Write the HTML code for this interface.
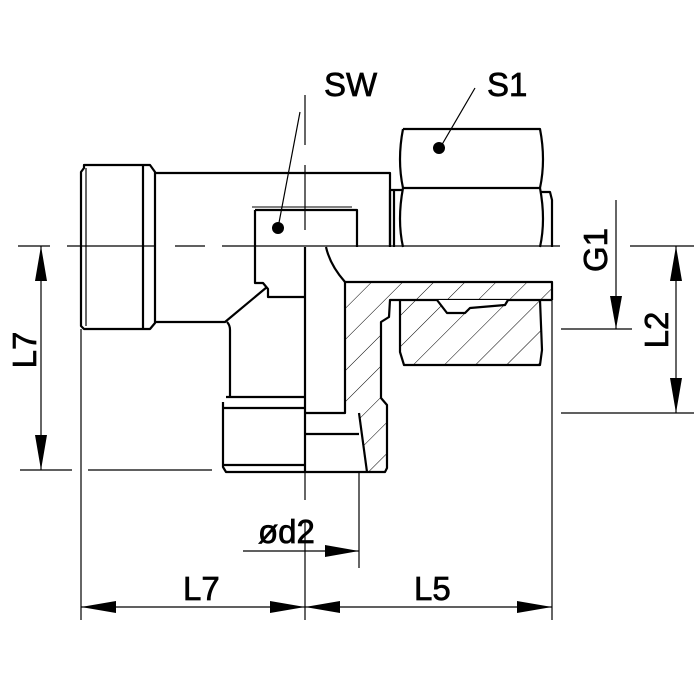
<!DOCTYPE html>
<html><head><meta charset="utf-8"><style>html,body{margin:0;padding:0;background:#fff}svg{display:block}</style></head>
<body>
<svg width="700" height="700" viewBox="0 0 700 700" xmlns="http://www.w3.org/2000/svg">
<defs>
<pattern id="h" patternUnits="userSpaceOnUse" width="22" height="22" patternTransform="rotate(45)">
<line x1="0" y1="0" x2="0" y2="22" stroke="#000" stroke-width="1"/>
</pattern>
</defs>
<g fill="none" stroke="#000" stroke-width="2.2" stroke-linejoin="round">
<!-- left nut -->
<path d="M84,168 L81,172 L81,326 L84,329 L150,329 L155,323 L155,172 L150,165 L84,165 Z"/>
<line x1="86" y1="168" x2="86" y2="326" stroke-width="1.2"/>
<line x1="143" y1="165" x2="143" y2="329"/>
<!-- body -->
<path d="M155,173 L390,173 L390,247"/>
<path d="M155,322 L225,322 L267,287"/>
<path d="M227,322 Q230,325 230,330 L230,397"/>
<!-- SW box -->
<path d="M255,210 L357,210 L357,247"/>
<path d="M255,210 L255,283 L263,283 L268,289 L268,297 L305,297" />
<path d="M252,207 L352,207" stroke-width="1"/>
<!-- lower nut -->
<path d="M226,397 L305,397 M223,402 L223,467 L226,472 L305,472 M223,408 L305,408 M223,465 L305,465"/>
<!-- S1 nut -->
<path d="M403,129 L540,129 Q546,160 540,188 Q546,220 540,247 M403,129 Q397,160 403,188 Q397,220 403,247 M403,188 L540,188"/>
<path d="M390,190 L390,247 M394,190 L394,247 M390,190 L403,190"/>
<path d="M540,192 L550,192 L552,200 L552,247"/>
<!-- hatched section -->
<path d="M345,282 L552,282 L552,300 L400,300 L390,300 L389,317 L381,322 L381,398 L387,405 L387,468 L385,472 L367,472 L359,413 L345,413 Z" fill="url(#h)" stroke="none"/>
<path d="M345,282 L552,282 L552,300 M345,282 L345,413 L305,413" />
<path d="M326,247 Q330,265 345,282" />
<path d="M305,247 L305,472 L385,472 L387,468 L387,405 L381,398 L381,322 L389,317 L390,300 L552,300"/>
<line x1="305" y1="434" x2="359" y2="434"/>
<path d="M359,413 L367,472"/>
<!-- lower right nut part -->
<path d="M400,300 L400,352 L404,365 L540,365 L542,350 L540,300" fill="url(#h)"/>
<path d="M437,300 L447,313 L465,313 L470,308 L505,305 L508,300" fill="#fff"/>
</g>
<!-- centre / dim lines -->
<g stroke="#000" stroke-width="1.2" fill="none">
<path d="M18,246 L50,246 M67,246 L155,246 M175,246 L205,246 M222,246 L560,246 M630,246 L694,246"/>
<path d="M305,95 L305,145 M305,165 L305,230 M305,472 L305,500 M305,520 L305,620"/>
<path d="M20,470 L72,470 M88,470 L212,470"/>
<path d="M81,329 L81,620 M552,300 L552,620 M359,472 L359,568"/>
<path d="M561,329 L632,329 M561,413 L694,413"/>
<line x1="41" y1="246" x2="41" y2="470"/>
<line x1="676" y1="246" x2="676" y2="413"/>
<line x1="616" y1="200" x2="616" y2="329"/>
<line x1="81" y1="607" x2="552" y2="607"/>
<line x1="243" y1="551" x2="359" y2="551"/>
<path d="M300,112 L278,228 M475,88 L440,148"/>
</g>
<g fill="#000">
<path d="M41,246 L35,281 L47,281Z M41,470 L35,435 L47,435Z"/>
<path d="M676,246 L670,281 L682,281Z M676,413 L670,378 L682,378Z"/>
<path d="M616,329 L610,296 L622,296Z"/>
<path d="M81,607 L116,601 L116,613Z M305,607 L270,601 L270,613Z M305,607 L340,601 L340,613Z M552,607 L517,601 L517,613Z"/>
<path d="M359,551 L325,545 L325,557Z"/>
<circle cx="278" cy="228" r="6"/><circle cx="439" cy="148" r="6"/>
</g>
<g font-family="Liberation Sans, sans-serif" font-size="33" fill="#000" stroke="#000" stroke-width="0.7">
<text x="324" y="96">SW</text>
<text x="487" y="96">S1</text>
<text x="183" y="600">L7</text>
<text x="414" y="600">L5</text>
<text x="258" y="543">ød2</text>
<text transform="translate(36,350) rotate(-90)" text-anchor="middle">L7</text>
<text transform="translate(607,250) rotate(-90)" text-anchor="middle">G1</text>
<text transform="translate(668,330) rotate(-90)" text-anchor="middle">L2</text>
</g>
</svg>
</body></html>
